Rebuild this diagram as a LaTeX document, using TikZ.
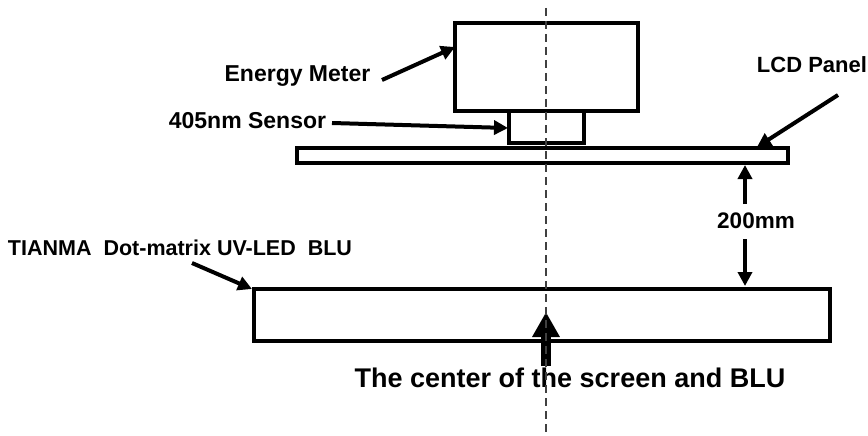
\documentclass[tikz,border=0pt]{standalone}
\usepackage{fontspec}
\setmainfont{Liberation Sans}
\usetikzlibrary{arrows.meta,calc}
\tikzset{
  box/.style={draw=black, line width=4pt, fill=white, inner sep=0pt},
  lbl/.style={inner sep=0pt, font=\bfseries},
  ptr/.style={line width=4pt, -{Triangle[length=14pt,width=14pt]}},
  bigptr/.style={line width=10pt, -{Triangle[length=25pt,width=26pt]}},
  centerline/.style={line width=1.5pt, dash pattern=on 8pt off 5pt, draw=black!75}
}
\begin{document}
\begin{tikzpicture}[x=1pt,y=-1pt]
\useasboundingbox (0,0) rectangle (868,436);
% boxes
\node[box, minimum width=183pt, minimum height=88pt] (meter) at (546.5,67) {};
\node[box, minimum width=75pt, minimum height=32pt] (sensor) at (546.5,127) {};
\node[box, minimum width=491pt, minimum height=15pt] (panel) at (542.5,155.5) {};
\node[box, minimum width=576pt, minimum height=52pt] (blu) at (542,315) {};
% labels
\node[lbl, font=\bfseries\fontsize{23}{23}\selectfont] (lmeter) at (297.5,76) {Energy Meter};
\node[lbl, font=\bfseries\fontsize{23}{23}\selectfont] (lsensor) at (247.5,121) {405nm Sensor};
\node[lbl, font=\bfseries\fontsize{22}{22}\selectfont] (lpanel) at (812,65) {LCD Panel};
\node[lbl, font=\bfseries\fontsize{22.5}{22.5}\selectfont] (ldist) at (756,221) {200mm};
\node[lbl, font=\bfseries\fontsize{21.5}{21.5}\selectfont] (lblu) at (180,247.5) {TIANMA\ \ Dot-matrix UV-LED\ \ BLU};
\node[lbl, font=\bfseries\fontsize{27}{27}\selectfont] (lcenter) at (570,377.5) {The center of the screen and BLU};
% arrow end points
\coordinate (a1s) at (382,80);
\coordinate (a1e) at (455,47);
\coordinate (a2s) at (332,123);
\coordinate (a2e) at (508,128);
\coordinate (a3s) at (838,95);
\coordinate (a3e) at (757,147);
\coordinate (a4s) at (192,263);
\coordinate (a4e) at (252,289);
\coordinate (d1s) at (745,204);
\coordinate (d1e) at (745,165);
\coordinate (d2s) at (745,239);
\coordinate (d2e) at (745,286);
\coordinate (cs) at (546,366);
\coordinate (ce) at (546,312);
\coordinate (ctop) at (546,8);
\coordinate (cbot) at (546,436);
% connectors
\draw[ptr] (a1s) -- (a1e);
\draw[ptr] (a2s) -- (a2e);
\draw[ptr] (a3s) -- (a3e);
\draw[ptr] (a4s) -- (a4e);
\draw[ptr] (d1s) -- (d1e);
\draw[ptr] (d2s) -- (d2e);
\draw[bigptr] (cs) -- (ce);
\draw[centerline] (ctop) -- (cbot);
\end{tikzpicture}
\end{document}
